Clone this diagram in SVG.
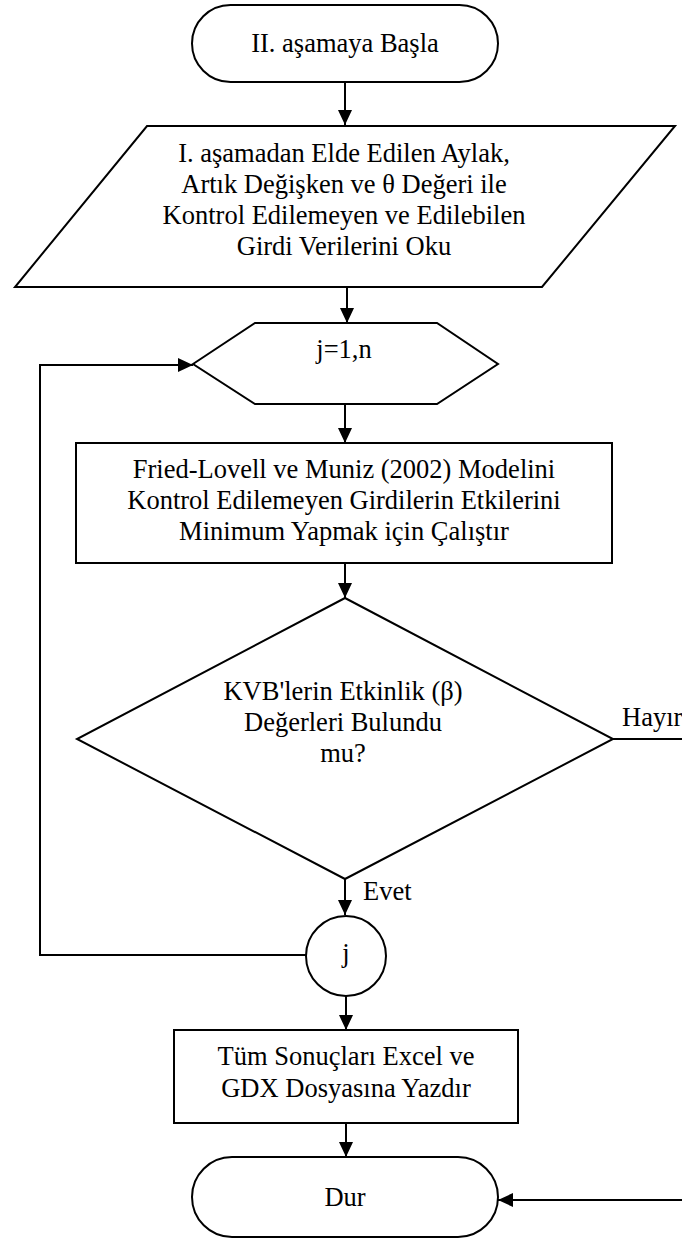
<svg xmlns="http://www.w3.org/2000/svg" width="682" height="1239" viewBox="0 0 682 1239">
<style>
.s{fill:#fff;stroke:#000;stroke-width:2}
.t{font-family:"Liberation Serif","Times New Roman",serif;font-size:26.5px;fill:#000;text-anchor:middle}
.l{font-family:"Liberation Serif","Times New Roman",serif;font-size:26.5px;fill:#000}
.c{fill:none;stroke:#000;stroke-width:2}
</style>
<defs>
<marker id="ah" markerUnits="userSpaceOnUse" markerWidth="15" markerHeight="14" refX="15" refY="7" orient="auto">
<path d="M0,0 L15,7 L0,14 z" fill="#000"/>
</marker>
</defs>
<rect width="682" height="1239" fill="#fff"/>
<g id="connectors">
<path class="c" d="M345,82 V125" marker-end="url(#ah)"/>
<path class="c" d="M347,287 V323" marker-end="url(#ah)"/>
<path class="c" d="M345,404 V443" marker-end="url(#ah)"/>
<path class="c" d="M345,563 V598" marker-end="url(#ah)"/>
<path class="c" d="M345,879 V915" marker-end="url(#ah)"/>
<path class="c" d="M306,955 H40 V365 H193" marker-end="url(#ah)"/>
<path class="c" d="M346,996 V1030" marker-end="url(#ah)"/>
<path class="c" d="M346,1123 V1157" marker-end="url(#ah)"/>
<path class="c" d="M613,739 H690 V1200 H498" marker-end="url(#ah)"/>
</g>
<g id="start">
<rect class="s" x="192" y="5" width="306" height="77" rx="38.5"/>
<text class="t" x="345" y="52">II. aşamaya Başla</text>
</g>
<g id="input">
<path class="s" d="M147,126 H675 L542,287 H15 Z"/>
<text class="t" x="344" y="162">I. aşamadan Elde Edilen Aylak,</text>
<text class="t" x="344" y="193">Artık Değişken ve θ Değeri ile</text>
<text class="t" x="344" y="224">Kontrol Edilemeyen ve Edilebilen</text>
<text class="t" x="344" y="255">Girdi Verilerini Oku</text>
</g>
<g id="loop">
<path class="s" d="M193,364 L255,323 H437 L498,364 L437,404 H255 Z"/>
<text class="t" x="344" y="358">j=1,n</text>
</g>
<g id="process">
<rect class="s" x="76" y="443" width="536" height="120"/>
<text class="t" x="344" y="478">Fried-Lovell ve Muniz (2002) Modelini</text>
<text class="t" x="344" y="509">Kontrol Edilemeyen Girdilerin Etkilerini</text>
<text class="t" x="344" y="540">Minimum Yapmak için Çalıştır</text>
</g>
<g id="decision">
<path class="s" d="M345,598 L613,739 L345,879 L77,739 Z"/>
<text class="t" x="343" y="700">KVB'lerin Etkinlik (β)</text>
<text class="t" x="343" y="731">Değerleri Bulundu</text>
<text class="t" x="343" y="762">mu?</text>
</g>
<g id="labels">
<text class="l" x="622" y="726">Hayır</text>
<text class="l" x="363" y="900">Evet</text>
</g>
<g id="connector-j">
<circle class="s" cx="346" cy="956" r="40"/>
<text class="t" x="346" y="962">j</text>
</g>
<g id="output">
<rect class="s" x="174" y="1030" width="344" height="93"/>
<text class="t" x="346" y="1065">Tüm Sonuçları Excel ve</text>
<text class="t" x="346" y="1097">GDX Dosyasına Yazdır</text>
</g>
<g id="end">
<rect class="s" x="192" y="1157" width="306" height="80" rx="40"/>
<text class="t" x="345" y="1206">Dur</text>
</g>
</svg>
